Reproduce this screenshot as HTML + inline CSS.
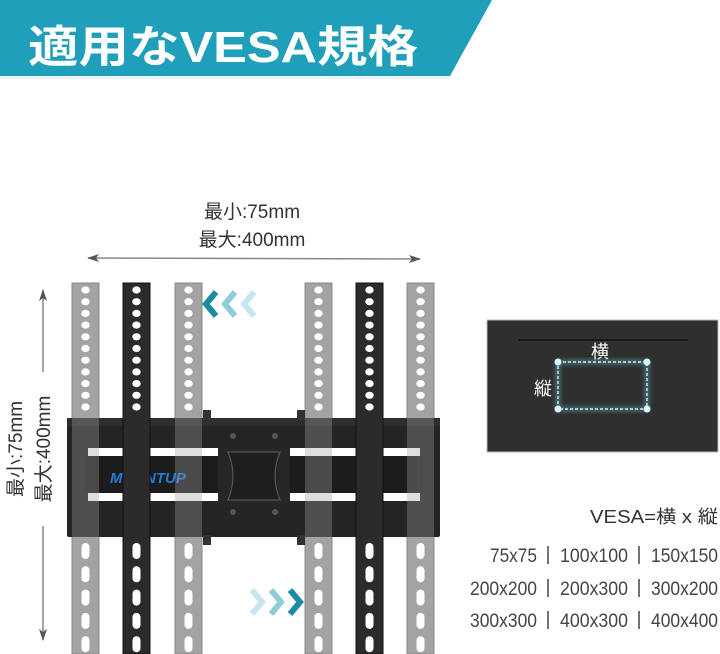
<!DOCTYPE html>
<html><head><meta charset="utf-8"><style>
html,body{margin:0;padding:0;background:#fff;}
svg{display:block;}
text{font-family:"Liberation Sans","Noto Sans CJK JP",sans-serif;}
</style></head><body>
<svg id="s" width="720" height="654" viewBox="0 0 720 654" xmlns="http://www.w3.org/2000/svg">
<defs>
<marker id="ah" viewBox="0 0 12 8" refX="11" refY="4" markerWidth="12" markerHeight="8" orient="auto-start-reverse" markerUnits="userSpaceOnUse"><path d="M0,0 L12,4 L0,8 L3,4Z" fill="#555"/></marker>
<filter id="glow"><feGaussianBlur stdDeviation="2.5"/></filter>
</defs>
<!-- banner -->
<polygon points="0,0 492,0 450,76 0,76" fill="#1f9fba"/>
<polygon points="0,76 450,76 448,79 0,79" fill="#e8f4f7"/>
<text x="28" y="62" font-size="44" font-weight="bold" fill="#fff" textLength="390" lengthAdjust="spacingAndGlyphs">適用なVESA規格</text>

<!-- top dimension -->
<text x="252" y="218" font-size="19" fill="#333" text-anchor="middle">最小:75mm</text>
<text x="252" y="246" font-size="19" fill="#333" text-anchor="middle">最大:400mm</text>
<line x1="88" y1="258" x2="420" y2="259" stroke="#888" stroke-width="1.5" marker-start="url(#ah)" marker-end="url(#ah)"/>

<!-- left dimension -->
<line x1="43" y1="290" x2="43" y2="640" stroke="#888" stroke-width="1.5" marker-start="url(#ah)" marker-end="url(#ah)"/>
<rect x="30" y="372" width="26" height="154" fill="#fff"/>
<text transform="translate(22,449) rotate(-90)" font-size="19" fill="#333" text-anchor="middle">最小:75mm</text>
<text transform="translate(50,449) rotate(-90)" font-size="19" fill="#333" text-anchor="middle">最大:400mm</text>

<g id="strips"></g>
<!-- plate -->
<rect x="67" y="418" width="373" height="119" rx="2" fill="#242424"/>
<rect x="67" y="418" width="373" height="8" fill="#2e2e2e"/>
<rect x="88" y="448" width="332" height="8" fill="#fff"/>
<rect x="88" y="493" width="332" height="8" fill="#fff"/>
<rect x="85" y="456" width="338" height="37" fill="#1c1c1c"/>
<rect x="218" y="445" width="72" height="60" fill="#262626"/>
<path d="M228,452 L280,452 Q270,476 280,500 L228,500 Q238,476 228,452Z" fill="#1e1e1e" stroke="#555" stroke-width="1.2"/>
<rect x="203" y="410" width="8" height="10" fill="#333"/><rect x="297" y="410" width="8" height="10" fill="#333"/>
<rect x="203" y="535" width="8" height="10" fill="#333"/><rect x="297" y="535" width="8" height="10" fill="#333"/>
<circle cx="233" cy="436" r="3" fill="#555"/><circle cx="275" cy="436" r="3" fill="#555"/>
<circle cx="233" cy="512" r="3" fill="#555"/><circle cx="275" cy="512" r="3" fill="#555"/>
<text x="110" y="483" font-size="15" font-weight="bold" font-style="italic" fill="#1e7fd6">MOUNTUP</text>
<g id="overlay"></g>

<!-- chevrons -->
<g fill="none" stroke-width="6" stroke-linejoin="miter">
<polyline points="216,292 206,304 216,316" stroke="#1c8ca5"/>
<polyline points="235,292 225,304 235,316" stroke="#8fcbd8"/>
<polyline points="254,292 244,304 254,316" stroke="#c7e5ec"/>
<polyline points="252,590 262,602 252,614" stroke="#c7e5ec"/>
<polyline points="271,590 281,602 271,614" stroke="#8fcbd8"/>
<polyline points="290,590 300,602 290,614" stroke="#1c8ca5"/>
</g>

<!-- right panel -->
<rect x="487" y="320" width="231" height="132" fill="#2f2f2f"/>
<rect x="487" y="320" width="231" height="132" fill="none" stroke="#bbb" stroke-width="1"/>
<line x1="518" y1="340" x2="688" y2="340" stroke="#111" stroke-width="1.5"/>
<text x="600" y="358" font-size="18" fill="#fff" text-anchor="middle">横</text>
<text x="543" y="395" font-size="18" fill="#fff" text-anchor="middle">縦</text>
<rect x="558" y="362" width="89" height="47" fill="none" stroke="#5fd6e8" stroke-width="4" opacity="0.5" filter="url(#glow)"/>
<rect x="558" y="362" width="89" height="47" fill="none" stroke="#fff" stroke-width="1.2" stroke-dasharray="3,2"/>
<g fill="#d8f6fb"><circle cx="558" cy="362" r="3.5"/><circle cx="647" cy="362" r="3.5"/><circle cx="558" cy="409" r="3.5"/><circle cx="647" cy="409" r="3.5"/></g>

<!-- VESA text -->
<text x="718" y="523" font-size="18" fill="#333" text-anchor="end" textLength="128" lengthAdjust="spacingAndGlyphs">VESA=横 x 縦</text>
<g font-size="19" fill="#444">
<text x="490" y="562" textLength="47" lengthAdjust="spacingAndGlyphs">75x75</text>
<text x="560" y="562" textLength="68" lengthAdjust="spacingAndGlyphs">100x100</text>
<text x="651" y="562" textLength="67" lengthAdjust="spacingAndGlyphs">150x150</text>
<text x="470" y="595" textLength="67" lengthAdjust="spacingAndGlyphs">200x200</text>
<text x="560" y="595" textLength="68" lengthAdjust="spacingAndGlyphs">200x300</text>
<text x="651" y="595" textLength="67" lengthAdjust="spacingAndGlyphs">300x200</text>
<text x="470" y="627" textLength="67" lengthAdjust="spacingAndGlyphs">300x300</text>
<text x="560" y="627" textLength="68" lengthAdjust="spacingAndGlyphs">400x300</text>
<text x="651" y="627" textLength="67" lengthAdjust="spacingAndGlyphs">400x400</text>
</g>
<g stroke="#444" stroke-width="1.5">
<line x1="548" y1="546" x2="548" y2="564"/><line x1="639" y1="546" x2="639" y2="564"/>
<line x1="548" y1="579" x2="548" y2="597"/><line x1="639" y1="579" x2="639" y2="597"/>
<line x1="548" y1="611" x2="548" y2="629"/><line x1="639" y1="611" x2="639" y2="629"/>
</g>
</svg>
<script>
var NS="http://www.w3.org/2000/svg";
function el(p,t,a){var e=document.createElementNS(NS,t);for(var k in a)e.setAttribute(k,a[k]);p.appendChild(e);return e;}
var S=document.getElementById('strips'),O=document.getElementById('overlay');
var xs=[[72,0],[123,1],[175,0],[305,0],[356,1],[407,0]];
xs.forEach(function(q){
  var x=q[0],dark=q[1],g=dark?O:S;
  el(g,'rect',{x:x,y:283,width:27,height:371,fill:dark?'#2b2b2b':'#a3a3a3',stroke:dark?'#111':'#8a8a8a','stroke-width':1});
  for(var y=290;y<412;y+=11.7) el(g,'ellipse',{cx:x+13.5,cy:y,rx:4.2,ry:3.6,fill:'#fff'});
  for(var y=543;y<654;y+=23.3) el(g,'rect',{x:x+9.5,y:y,width:8,height:16,rx:4,fill:'#fff'});
  if(!dark) el(O,'rect',{x:x,y:418,width:27,height:119,fill:'#a0a0a0',opacity:0.35});
});
</script>
</body></html>
